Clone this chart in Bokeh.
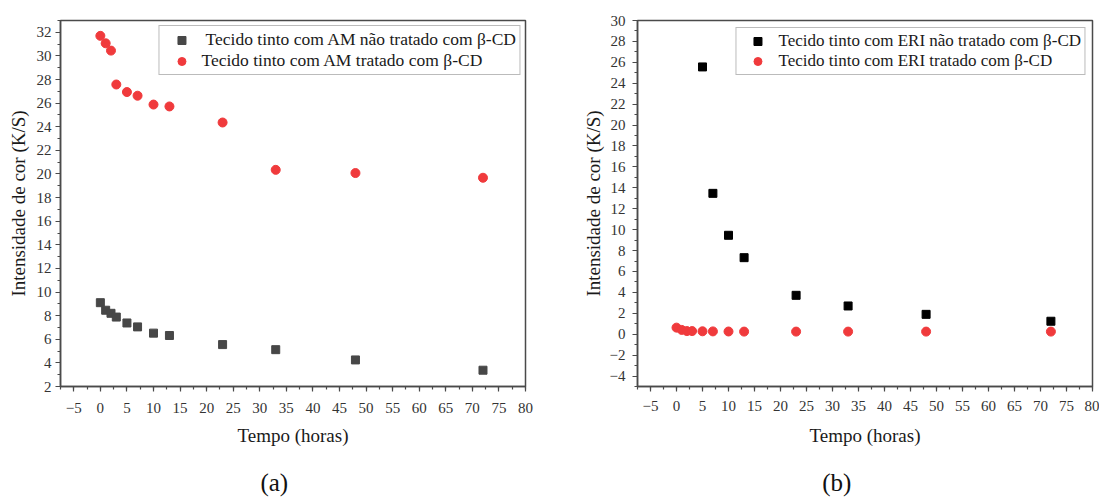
from bokeh.plotting import figure
from bokeh.layouts import row
from bokeh.models import Range1d, SingleIntervalTicker, FixedTicker, Legend, LegendItem, LinearAxis
from bokeh.embed import file_html
from bokeh.resources import INLINE

# ---- data (a) ----
tempo_am = [0, 1, 2, 3, 5, 7, 10, 13, 23, 33, 48, 72]
am_nao_tratado = [9.1, 8.46, 8.2, 7.88, 7.38, 7.05, 6.52, 6.32, 5.55, 5.12, 4.25, 3.38]
am_tratado = [31.7, 31.07, 30.45, 27.58, 26.94, 26.63, 25.88, 25.72, 24.36, 20.35, 20.08, 19.68]
labels_am = [" Tecido tinto com AM não tratado com β-CD", "Tecido tinto com AM tratado com β-CD"]

# ---- data (b) ----
tempo_eri_nao = [5, 7, 10, 13, 23, 33, 48, 72]
eri_nao_tratado = [25.56, 13.47, 9.46, 7.32, 3.72, 2.7, 1.9, 1.24]
tempo_eri = [0, 1, 2, 3, 5, 7, 10, 13, 23, 33, 48, 72]
eri_tratado = [0.63, 0.41, 0.3, 0.3, 0.28, 0.27, 0.26, 0.25, 0.25, 0.25, 0.25, 0.25]
labels_eri = ["Tecido tinto com ERI não tratado com β-CD", "Tecido tinto com ERI tratado com β-CD"]

x_label = "Tempo (horas)"
y_label = "Intensidade de cor (K/S)"
panel_tags = ["(a)", "(b)"]

SERIF = "Liberation Serif"
RED = "#f03a3c"
AXC = "#4a4a4a"
NBSP = "\u00a0"


def style(p, ystep, x_std, y_std, xlab_std, ylab_std):
    p.grid.visible = False
    p.outline_line_color = AXC
    p.outline_line_width = 1.5
    p.xaxis.ticker = SingleIntervalTicker(interval=5, num_minor_ticks=2)
    p.yaxis.ticker = SingleIntervalTicker(interval=ystep, num_minor_ticks=2)
    for ax in (p.xaxis[0], p.yaxis[0]):
        ax.axis_line_color = AXC
        ax.axis_line_width = 1.5
        ax.major_tick_line_color = AXC
        ax.minor_tick_line_color = AXC
        ax.major_tick_line_width = 1.2
        ax.minor_tick_line_width = 1.2
        ax.major_tick_out = 5
        ax.major_tick_in = 0
        ax.minor_tick_out = 3
        ax.minor_tick_in = 0
        ax.major_label_text_font = SERIF
        ax.major_label_text_font_size = "15px"
        ax.major_label_text_color = "#333333"
        ax.axis_label_text_font = SERIF
        ax.axis_label_text_font_style = "normal"
        ax.axis_label_text_color = "#1a1a1a"
        ax.axis_label_text_font_size = "19px"
    p.xaxis.major_label_standoff = x_std
    p.yaxis.major_label_standoff = y_std
    p.xaxis.axis_label_standoff = xlab_std
    p.yaxis.axis_label_standoff = ylab_std
    p.xaxis.axis_label = x_label
    p.yaxis.axis_label = y_label
    p.xaxis.major_label_overrides = {-5: "\u22125"}


def tag(p, text, pad, standoff):
    # caption "(a)"/"(b)" drawn as the label of a tick-less axis under the x axis;
    # trailing no-break spaces move the centred caption left of the frame centre
    ax = LinearAxis(ticker=FixedTicker(ticks=[]),
                    axis_line_color=None, major_tick_out=0, major_tick_in=0,
                    minor_tick_out=0, minor_tick_in=0, major_label_standoff=0,
                    axis_label=text + NBSP * pad, axis_label_standoff=standoff,
                    axis_label_text_font=SERIF, axis_label_text_font_size="25px",
                    axis_label_text_font_style="normal", axis_label_text_color="#111111")
    p.add_layout(ax, "below")


# ---------- panel (a) ----------
pa = figure(width=560, height=503, x_range=Range1d(-7.5, 80), y_range=Range1d(2, 33),
            output_backend="svg", toolbar_location=None,
            min_border_left=60, min_border_right=35, min_border_top=15, min_border_bottom=115)
style(pa, 2, 11, 4, 9, 5)
ra1 = pa.scatter(tempo_am, am_nao_tratado, marker="square", size=8, fill_color="#474747", line_color="#474747")
ra2 = pa.scatter(tempo_am, am_tratado, marker="circle", size=9, fill_color=RED, line_color=RED)
leg_a = Legend(items=[LegendItem(label=labels_am[0], renderers=[ra1]),
                      LegendItem(label=labels_am[1], renderers=[ra2])],
               location="top_right", margin=5, padding=3, spacing=0,
               glyph_width=38, glyph_height=20, label_height=20, label_standoff=1,
               label_text_font=SERIF, label_text_font_size="17.5px", label_text_color="#1a1a1a",
               border_line_color="#777777", border_line_width=1)
pa.add_layout(leg_a, "center")
tag(pa, panel_tags[0], 6, 20)

# ---------- panel (b) ----------
pb = figure(width=539, height=503, x_range=Range1d(-7.5, 80), y_range=Range1d(-5, 30),
            output_backend="svg", toolbar_location=None,
            min_border_left=77, min_border_right=7, min_border_top=20, min_border_bottom=117)
style(pb, 2, 9, 7, 11, 3)
pb.yaxis.major_label_overrides = {-2: "\u22122", -4: "\u22124"}
rb1 = pb.scatter(tempo_eri_nao, eri_nao_tratado, marker="square", size=8, fill_color="#000000", line_color="#000000")
rb2 = pb.scatter(tempo_eri, eri_tratado, marker="circle", size=9, fill_color=RED, line_color=RED)
leg_b = Legend(items=[LegendItem(label=labels_eri[0], renderers=[rb1]),
                      LegendItem(label=labels_eri[1], renderers=[rb2])],
               location="top_right", margin=7, padding=3, spacing=0,
               glyph_width=36, glyph_height=20, label_height=20, label_standoff=3,
               label_text_font=SERIF, label_text_font_size="17px", label_text_color="#1a1a1a",
               border_line_color="#777777", border_line_width=1)
pb.add_layout(leg_b, "center")
tag(pb, panel_tags[1], 9, 20)

layout = row(pa, pb)
open("out.html", "w").write(file_html(layout, INLINE))
